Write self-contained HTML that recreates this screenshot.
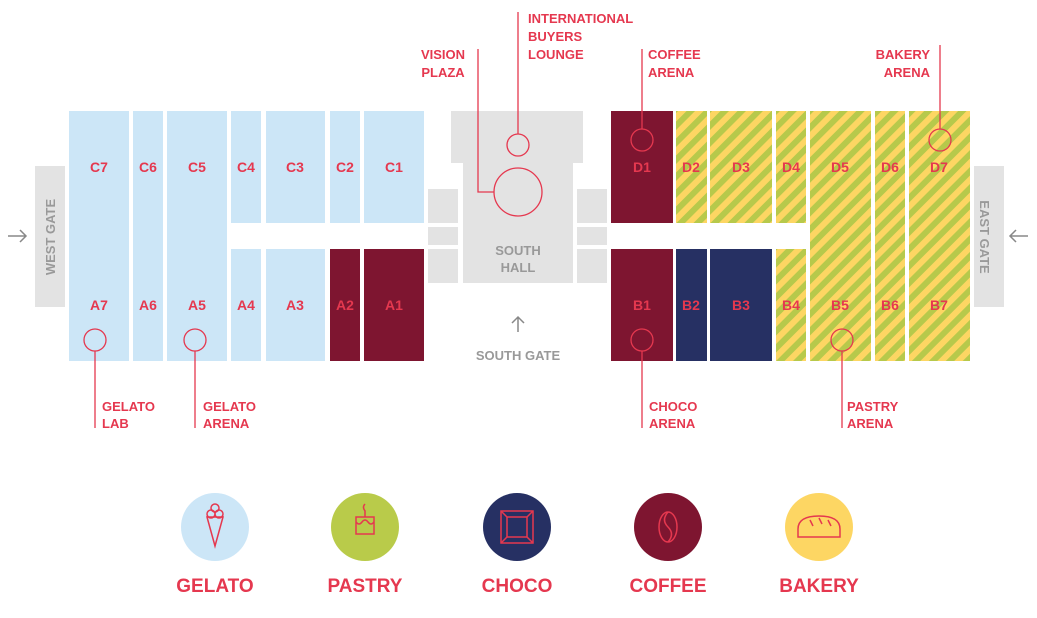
<!DOCTYPE html>
<html><head><meta charset="utf-8"><style>
html,body{margin:0;padding:0;background:#fff}
svg{display:block}
text{font-family:"Liberation Sans",sans-serif;font-weight:bold}
</style></head><body>
<svg width="1037" height="618" viewBox="0 0 1037 618" xmlns="http://www.w3.org/2000/svg">
<defs>
<pattern id="st" patternUnits="userSpaceOnUse" width="12" height="12" patternTransform="rotate(45)">
<rect width="12" height="12" fill="#fdd663"/><rect width="6" height="12" fill="#b7c94b"/>
</pattern>
</defs>
<g fill="#cce6f7">
<rect x="69" y="111" width="60" height="250"/>
<rect x="133" y="111" width="30" height="250"/>
<rect x="167" y="111" width="60" height="250"/>
<rect x="231" y="111" width="30" height="112"/>
<rect x="231" y="249" width="30" height="112"/>
<rect x="266" y="111" width="59" height="112"/>
<rect x="266" y="249" width="59" height="112"/>
<rect x="330" y="111" width="30" height="112"/>
<rect x="364" y="111" width="60" height="112"/>
</g>
<g fill="#7e1530">
<rect x="330" y="249" width="30" height="112"/>
<rect x="364" y="249" width="60" height="112"/>
<rect x="611" y="111" width="62" height="112"/>
<rect x="611" y="249" width="62" height="112"/>
</g>
<g fill="#263063">
<rect x="676" y="249" width="31" height="112"/>
<rect x="710" y="249" width="62" height="112"/>
</g>
<g fill="url(#st)">
<rect x="676" y="111" width="31" height="112"/>
<rect x="710" y="111" width="62" height="112"/>
<rect x="776" y="111" width="30" height="112"/>
<rect x="776" y="249" width="30" height="112"/>
<rect x="810" y="111" width="61" height="250"/>
<rect x="875" y="111" width="30" height="250"/>
<rect x="909" y="111" width="61" height="250"/>
</g>
<g fill="#e3e3e3">
<rect x="35" y="166" width="30" height="141"/>
<rect x="974" y="166" width="30" height="141"/>
<rect x="451" y="111" width="132" height="52"/>
<rect x="463" y="111" width="110" height="172"/>
<rect x="428" y="189" width="30" height="34"/>
<rect x="428" y="227" width="30" height="18"/>
<rect x="428" y="249" width="30" height="34"/>
<rect x="577" y="189" width="30" height="34"/>
<rect x="577" y="227" width="30" height="18"/>
<rect x="577" y="249" width="30" height="34"/>
</g>
<g fill="#e5384f" font-size="14" text-anchor="middle">
<text x="99" y="172">C7</text><text x="148" y="172">C6</text><text x="197" y="172">C5</text><text x="246" y="172">C4</text><text x="295" y="172">C3</text><text x="345" y="172">C2</text><text x="394" y="172">C1</text>
<text x="99" y="310">A7</text><text x="148" y="310">A6</text><text x="197" y="310">A5</text><text x="246" y="310">A4</text><text x="295" y="310">A3</text><text x="345" y="310">A2</text><text x="394" y="310">A1</text>
<text x="642" y="172">D1</text><text x="691" y="172">D2</text><text x="741" y="172">D3</text><text x="791" y="172">D4</text><text x="840" y="172">D5</text><text x="890" y="172">D6</text><text x="939" y="172">D7</text>
<text x="642" y="310">B1</text><text x="691" y="310">B2</text><text x="741" y="310">B3</text><text x="791" y="310">B4</text><text x="840" y="310">B5</text><text x="890" y="310">B6</text><text x="939" y="310">B7</text>
</g>
<g fill="#999" font-size="13" text-anchor="middle">
<text x="518" y="255">SOUTH</text><text x="518" y="272">HALL</text>
<text x="518" y="360">SOUTH GATE</text>
<text transform="translate(55,237) rotate(-90)">WEST GATE</text>
<text transform="translate(980,237) rotate(90)">EAST GATE</text>
</g>
<g stroke="#888" stroke-width="1.5" fill="none">
<path d="M8 236H26M20 230l6 6-6 6"/>
<path d="M1028 236H1010M1016 230l-6 6 6 6"/>
<path d="M518 332V317M512 323l6-6 6 6"/>
</g>
<g stroke="#e5384f" stroke-width="1.3" fill="none">
<circle cx="518" cy="145" r="11"/>
<circle cx="518" cy="192" r="24"/>
<path d="M478 49V192H494"/>
<path d="M518 12V134"/>
<path d="M642 49V129"/><circle cx="642" cy="140" r="11"/>
<path d="M940 45V129"/><circle cx="940" cy="140" r="11"/>
<circle cx="95" cy="340" r="11"/><path d="M95 351V428"/>
<circle cx="195" cy="340" r="11"/><path d="M195 351V428"/>
<circle cx="642" cy="340" r="11"/><path d="M642 351V428"/>
<circle cx="842" cy="340" r="11"/><path d="M842 351V428"/>
</g>
<g fill="#e5384f" font-size="13">
<text x="443" y="59" text-anchor="middle">VISION</text><text x="443" y="77" text-anchor="middle">PLAZA</text>
<text x="528" y="23">INTERNATIONAL</text><text x="528" y="41">BUYERS</text><text x="528" y="59">LOUNGE</text>
<text x="648" y="59">COFFEE</text><text x="648" y="77">ARENA</text>
<text x="930" y="59" text-anchor="end">BAKERY</text><text x="930" y="77" text-anchor="end">ARENA</text>
<text x="102" y="411">GELATO</text><text x="102" y="428">LAB</text>
<text x="203" y="411">GELATO</text><text x="203" y="428">ARENA</text>
<text x="649" y="411">CHOCO</text><text x="649" y="428">ARENA</text>
<text x="847" y="411">PASTRY</text><text x="847" y="428">ARENA</text>
</g>
<circle cx="215" cy="527" r="34" fill="#cce6f7"/>
<circle cx="365" cy="527" r="34" fill="#b9cb4a"/>
<circle cx="517" cy="527" r="34" fill="#263063"/>
<circle cx="668" cy="527" r="34" fill="#7e1530"/>
<circle cx="819" cy="527" r="34" fill="#fdd663"/>
<g stroke="#e5384f" stroke-width="1.5" fill="none">
<path d="M207 517L215 546L223 517Z"/><circle cx="211" cy="514" r="4"/><circle cx="219" cy="514" r="4"/><circle cx="215" cy="508" r="4"/>
<rect x="356" y="517" width="18" height="17"/><path d="M356 522q3 4 6 0t6 0t6 0"/><path d="M365 517v-6q-3-4 0-7"/>
<rect x="501" y="511" width="32" height="32"/><rect x="507" y="517" width="20" height="20"/><path d="M501 511l6 6M533 511l-6 6M501 543l6-6M533 543l-6-6"/>
<ellipse cx="668" cy="527" rx="9" ry="15"/><path d="M668 512q-7 8 0 15t0 15"/>
<path d="M798 537v-8q0-13 21-13t21 13v8Z"/><path d="M810 520l3 6M819 518l3 6M828 520l3 6"/>
</g>
<g fill="#e5384f" font-size="19" text-anchor="middle">
<text x="215" y="592">GELATO</text><text x="365" y="592">PASTRY</text><text x="517" y="592">CHOCO</text><text x="668" y="592">COFFEE</text><text x="819" y="592">BAKERY</text>
</g>
</svg>
</body></html>
